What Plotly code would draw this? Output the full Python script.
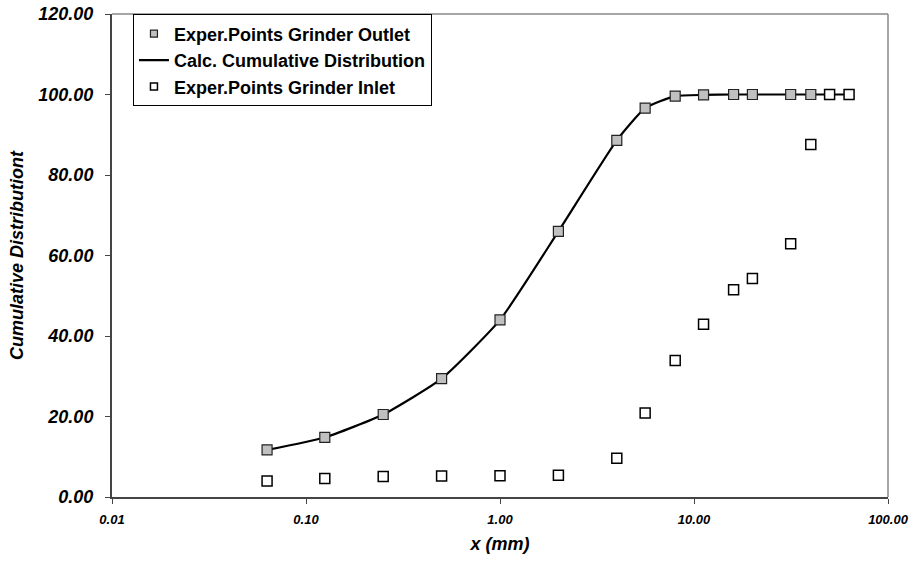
import plotly.graph_objects as go

# sieve sizes (mm)
x_outlet = [0.063, 0.125, 0.25, 0.5, 1.0, 2.0, 4.0, 5.6, 8.0, 11.2, 16.0, 20.0, 31.5, 40.0]
y_outlet = [11.7, 14.8, 20.5, 29.4, 44.0, 66.0, 88.6, 96.6, 99.6, 99.9, 100.0, 100.0, 100.0, 100.0]

x_calc = [0.063, 0.125, 0.25, 0.5, 1.0, 2.0, 4.0, 5.6, 8.0, 11.2, 16.0, 20.0, 31.5, 40.0, 50.0, 63.0]
y_calc = [11.7, 14.8, 20.5, 29.4, 44.0, 66.0, 88.6, 96.6, 99.6, 99.9, 100.0, 100.0, 100.0, 100.0, 100.0, 100.0]

x_inlet = [0.063, 0.125, 0.25, 0.5, 1.0, 2.0, 4.0, 5.6, 8.0, 11.2, 16.0, 20.0, 31.5, 40.0, 50.0, 63.0]
y_inlet = [4.0, 4.6, 5.1, 5.2, 5.3, 5.4, 9.6, 20.9, 33.9, 42.9, 51.5, 54.3, 62.9, 87.6, 100.0, 100.0]

names = ["Exper.Points Grinder Outlet", "Calc. Cumulative Distribution", "Exper.Points Grinder Inlet"]

x_tickvals = [0.01, 0.1, 1, 10, 100]
x_ticktext = ["0.01", "0.10", "1.00", "10.00", "100.00"]
y_tickvals = [0, 20, 40, 60, 80, 100, 120]
y_ticktext = ["0.00", "20.00", "40.00", "60.00", "80.00", "100.00", "120.00"]

FONT = "Liberation Sans, Arial, sans-serif"
OUT_MARK = dict(symbol="square", color="#c0c0c0", line=dict(color="#222222", width=1.2))
IN_MARK = dict(symbol="square", color="white", line=dict(color="black", width=1.5))

fig = go.Figure()
fig.add_trace(go.Scatter(
    x=x_calc, y=y_calc, mode="lines", showlegend=False,
    line=dict(color="black", width=2.2, shape="spline", smoothing=0.5),
))
fig.add_trace(go.Scatter(
    x=x_outlet, y=y_outlet, mode="markers", showlegend=False,
    marker=dict(size=10, **OUT_MARK),
))
fig.add_trace(go.Scatter(
    x=x_inlet, y=y_inlet, mode="markers", showlegend=False,
    marker=dict(size=10, **IN_MARK),
))
# legend entries (small symbols as in the original)
fig.add_trace(go.Scatter(x=[None], y=[None], mode="markers", name=names[0],
                         marker=dict(size=7, **OUT_MARK)))
fig.add_trace(go.Scatter(x=[None], y=[None], mode="lines", name=names[1],
                         line=dict(color="black", width=2.2)))
fig.add_trace(go.Scatter(x=[None], y=[None], mode="markers", name=names[2],
                         marker=dict(size=7, **IN_MARK)))

fig.update_layout(
    width=914, height=563,
    margin=dict(l=112, r=26, t=14, b=66, autoexpand=False),
    paper_bgcolor="white", plot_bgcolor="white",
    font=dict(family=FONT, color="black"),
    showlegend=True,
    legend=dict(
        x=0.027, y=0.999, xanchor="left", yanchor="top",
        bgcolor="white", bordercolor="black", borderwidth=1,
        font=dict(family=FONT, size=18, weight="bold", color="black"),
        tracegroupgap=0, itemsizing="trace",
    ),
    xaxis=dict(
        type="log", range=[-2, 2], automargin=False,
        tickvals=x_tickvals, ticktext=x_ticktext,
        tickfont=dict(family=FONT, size=13, weight="bold", style="italic"),
        ticks="outside", ticklen=5, tickcolor="#444444", ticklabelstandoff=4,
        showline=True, linecolor="#444444", linewidth=2, mirror=False,
        showgrid=False, zeroline=False,
        title=dict(text="x (mm)", font=dict(family=FONT, size=18, weight="bold", style="italic"), standoff=12),
    ),
    yaxis=dict(
        range=[0, 120], automargin=False,
        tickvals=y_tickvals, ticktext=y_ticktext,
        tickfont=dict(family=FONT, size=18, weight="bold", style="italic"),
        ticks="outside", ticklen=5, tickcolor="#444444", ticklabelstandoff=8,
        showline=True, linecolor="#444444", linewidth=2,
        showgrid=False, zeroline=False,
        title=dict(text="Cumulative Distributiont", font=dict(family=FONT, size=18, weight="bold", style="italic"), standoff=10),
    ),
)
# top and right border of plot area
fig.add_shape(type="line", xref="paper", yref="paper", x0=0, x1=1, y0=1, y1=1,
              line=dict(color="#888888", width=1.5))
fig.add_shape(type="line", xref="paper", yref="paper", x0=1, x1=1, y0=0, y1=1,
              line=dict(color="#888888", width=1.5))

fig.write_html("out.html")
